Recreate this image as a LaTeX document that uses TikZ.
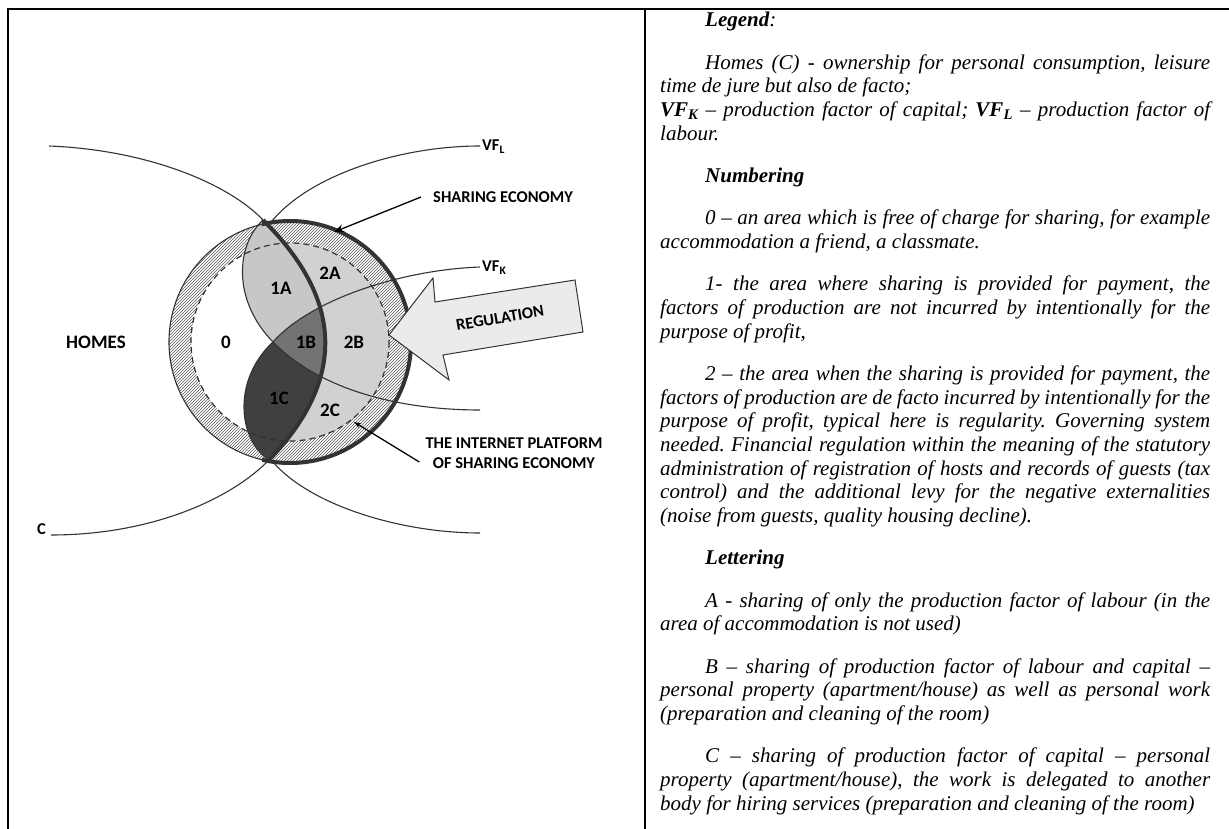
\documentclass[tikz,border=0pt]{standalone}
\usepackage{fontspec}
\usetikzlibrary{patterns,arrows.meta}
\newfontfamily\labelsans{Carlito}
\newfontfamily\legendserif{Liberation Serif}
\def\outercircle{(290,342) circle (121)}
\def\dashcircle{(290,342) circle (99)}
\def\lensright{(263,220) .. controls (344,300) and (346,380) .. (269,460)}
\def\lensshape{(263,220) .. controls (236,245) and (232,300) .. (273,342) .. controls (232,380) and (238,440) .. (269,460) .. controls (346,380) and (344,300) .. (263,220) -- cycle}
\colorlet{line dark}{black!80}
\colorlet{area two}{black!18}
\colorlet{area one}{black!22}
\colorlet{area mid}{black!55}
\colorlet{area dark}{black!75}
\colorlet{arrow fill}{black!8}
\tikzset{
  curve/.style={draw=line dark, line width=1.1pt},
  heavy/.style={draw=line dark, line width=4pt},
  lbl/.style={font=\labelsans\bfseries\fontsize{19}{19}\selectfont, inner sep=0pt},
  smalllbl/.style={font=\labelsans\bfseries\fontsize{16.5}{20}\selectfont, inner sep=0pt},
  pointer/.style={draw=black, line width=1.3pt, -{Stealth[length=10pt,width=8pt]}},
  borderline/.style={draw=black, line width=2.5pt}
}
\newcommand\legendtext{\legendserif\itshape\fontsize{21}{23.7}\selectfont\frenchspacing}

\begin{document}
\begin{tikzpicture}[x=1pt,y=-1pt]
    \useasboundingbox (0,0) rectangle (1229,829);
    \draw[borderline] (8,829) -- (8,9) -- (1229,9);
    \draw[borderline] (645,9) -- (645,829);
    \coordinate (top) at (263,220);
    \coordinate (mid) at (273,342);
    \coordinate (bot) at (269,460);
    \fill[pattern=north east lines, pattern color=black!65, even odd rule] \outercircle \dashcircle;
    \begin{scope}
      \clip \lensright -- (269,600) -- (600,600) -- (600,100) -- (263,100) -- cycle;
      \fill[area two] \dashcircle;
    \end{scope}
    \begin{scope}
      \clip \lensshape;
      \fill[area one] (150,200) rectangle (400,480);
      \fill[area mid] (mid) .. controls (310,300) and (400,270) .. (480,267) -- (480,410) .. controls (400,410) and (320,390) .. (mid) -- cycle;
      \fill[area dark] (mid) .. controls (320,390) and (400,410) .. (480,410) -- (480,600) -- (200,600) -- (200,342) -- cycle;
    \end{scope}
    \coordinate (homes end) at (49,146);
    \coordinate (vfl end) at (480,146);
    \coordinate (vfk end) at (480,267);
    \coordinate (low end) at (480,410);
    \coordinate (c end) at (51,535);
    \coordinate (vfl low end) at (480,533);
    \draw[curve] (homes end) .. controls (150,150) and (230,185) .. (top);
    \draw[curve] (top) .. controls (236,245) and (232,300) .. (mid) .. controls (320,390) and (400,410) .. (low end);
    \draw[curve] (vfk end) .. controls (400,270) and (310,300) .. (mid) .. controls (232,380) and (238,440) .. (bot);
    \draw[curve] (bot) .. controls (230,500) and (150,535) .. (c end);
    \draw[curve] (272,221) .. controls (310,175) and (400,146) .. (vfl end);
    \draw[curve] (273,462) .. controls (310,505) and (400,533) .. (vfl low end);
    \draw[curve] \outercircle;
    \begin{scope}
      \clip (262,0) rectangle (640,829);
      \draw[heavy] \outercircle;
    \end{scope}
    \draw[heavy] \lensright;
    \draw[draw=line dark, line width=1.2pt, dash pattern=on 6pt off 4pt] \dashcircle;
    \draw[fill=arrow fill, draw=line dark, line width=1pt] (389,335) -- (433,278) -- (435,302) -- (575,280) -- (583,332) -- (443,355) -- (449,380) -- cycle;
    \node[smalllbl, rotate=9.5] (regulation) at (500,318) {REGULATION};
    \node[lbl] (homes) at (96,342) {HOMES};
    \node[lbl] (zero) at (226,342) {0};
    \node[lbl] (oneA) at (281,288) {1A};
    \node[lbl] (twoA) at (330,273) {2A};
    \node[lbl] (oneB) at (306,342) {1B};
    \node[lbl] (twoB) at (354,342) {2B};
    \node[lbl] (oneC) at (279,398) {1C};
    \node[lbl] (twoC) at (330,410) {2C};
    \node[smalllbl, anchor=base west] (vfl) at (482,151) {VF\textsubscript{L}};
    \node[smalllbl, anchor=base west] (vfk) at (482,272) {VF\textsubscript{K}};
    \node[smalllbl, anchor=base east] (c) at (46,534) {C};
    \node[smalllbl, anchor=west] (sharing) at (433,197) {SHARING ECONOMY};
    \coordinate (sharing tip) at (334,232);
    \draw[pointer] ([xshift=-12pt]sharing.west) -- (sharing tip);
    \node[smalllbl, align=center] (platform) at (514,453) {THE INTERNET PLATFORM\\OF SHARING ECONOMY};
    \coordinate (platform tip) at (354,422);
    \draw[pointer, -{Stealth[length=7pt,width=5pt]}] ([shift={(-6,9)}]platform.west) -- (platform tip);
    \node[anchor=north west, inner sep=0pt, text width=550pt, align=justify, font=\legendtext] (legend) at (660,12) {%
      \noindent\hspace*{45pt}\textbf{Legend}:\setlength\parskip{18.6pt}\setlength\parindent{45pt}\par
      Homes (C) - ownership for personal consumption, leisure\linebreak time de jure but also de facto;\newline
      \textbf{VF\textsubscript{K}} – production factor of capital; \textbf{VF\textsubscript{L}} – production factor of\linebreak labour.\par
      \textbf{Numbering}\par
      0 – an area which is free of charge for sharing, for example\linebreak accommodation a friend, a classmate.\par
      1- the area where sharing is provided for payment, the\linebreak factors of production are not incurred by intentionally for the\linebreak purpose of profit,\par
      2 – the area when the sharing is provided for payment, the\linebreak factors of production are de facto incurred by intentionally for the\linebreak purpose of profit, typical here is regularity. Governing system\linebreak needed. Financial regulation within the meaning of the statutory\linebreak administration of registration of hosts and records of guests (tax\linebreak control) and the additional levy for the negative externalities\linebreak (noise from guests, quality housing decline).\par
      \textbf{Lettering}\par
      A - sharing of only the production factor of labour (in the\linebreak area of accommodation is not used)\par
      B – sharing of production factor of labour and capital –\linebreak personal property (apartment/house) as well as personal work\linebreak (preparation and cleaning of the room)\par
      C – sharing of production factor of capital – personal\linebreak property (apartment/house), the work is delegated to another\linebreak body for hiring services (preparation and cleaning of the room)};
\end{tikzpicture}
\end{document}
